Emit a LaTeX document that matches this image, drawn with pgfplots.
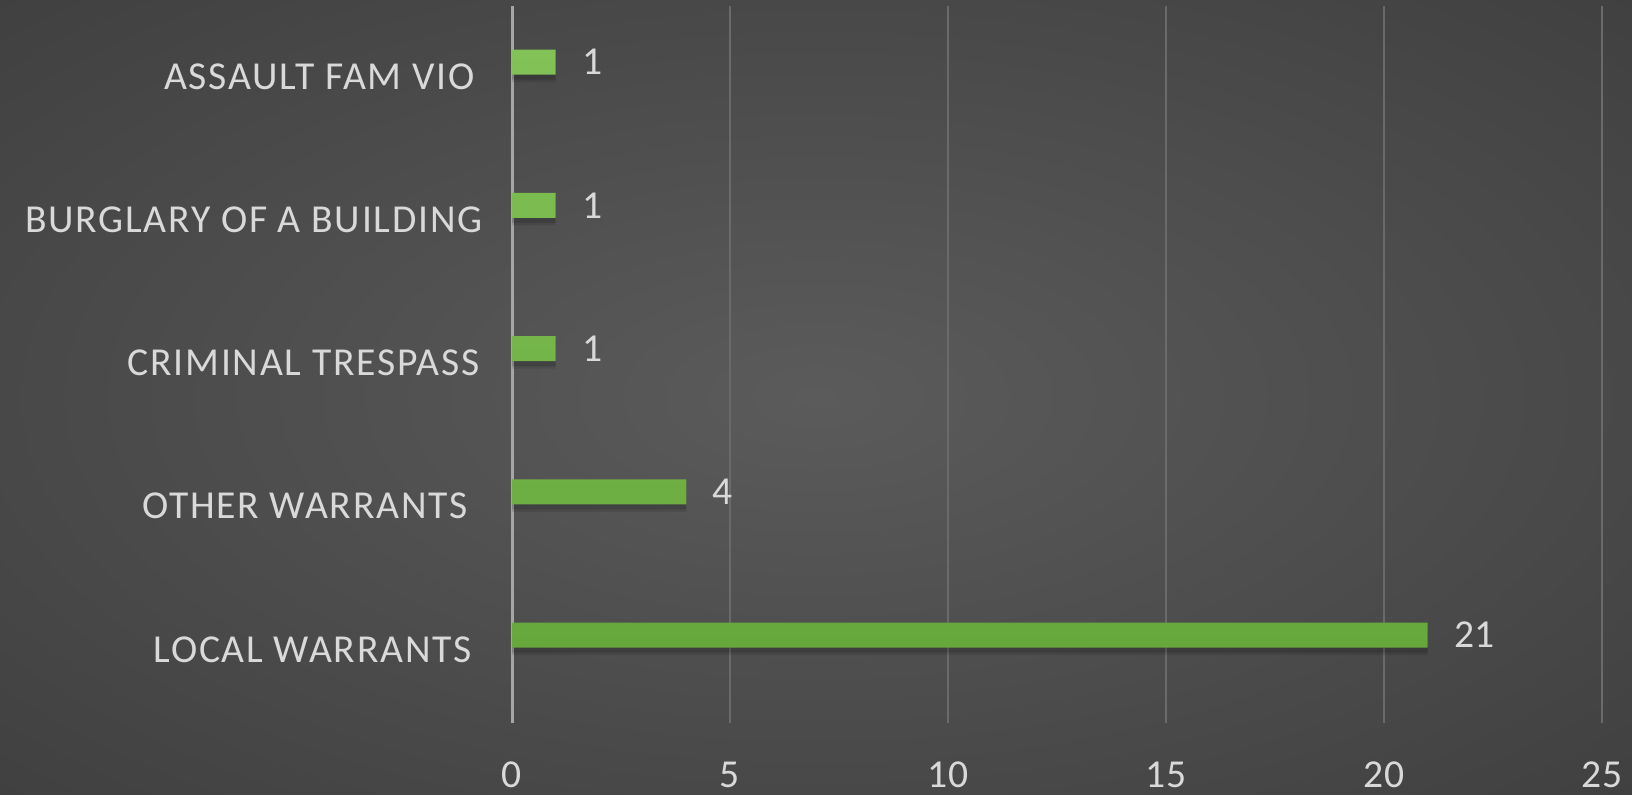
\documentclass[border=0pt]{standalone}
\usepackage{pgfplots}
\pgfplotsset{compat=1.18}
\usepackage{fontspec}
\setmainfont{Carlito}
\newfontfamily\catfont[LetterSpace=4.5]{Carlito}

\definecolor{bgmid}{HTML}{5B5B5B}
\definecolor{bgedge}{HTML}{353535}
\definecolor{bgcorner}{HTML}{262626}
\definecolor{txt}{HTML}{D9D9D9}
\definecolor{gridc}{HTML}{6A6A6A}
\definecolor{axisc}{HTML}{A6A6A6}
\definecolor{bartop}{HTML}{82C257}
\definecolor{barbot}{HTML}{67A83D}

\pgfdeclareradialshading{bgshade}{\pgfpoint{0bp}{0bp}}{%
  color(0bp)=(bgmid); color(50bp)=(bgedge); color(71bp)=(bgcorner); color(100bp)=(bgcorner)}

\newcommand{\lbl}{\fontsize{19.8}{24}\selectfont}

\begin{document}
\begin{tikzpicture}
% canvas: 1 px of the reference = 0.5pt
\path[use as bounding box, shading=bgshade] (0,0) rectangle (816pt,397pt);

\begin{axis}[
    at={(256pt,35.5pt)}, anchor=south west,
    scale only axis,
    width=545pt, height=358.5pt,
    xmin=0, xmax=25,
    ymin=-0.614, ymax=4.391,
    xtick={0,5,...,25},
    ytick={0,...,4},
    yticklabels={LOCAL WARRANTS\hspace*{5.5pt},
                 OTHER WARRANTS\hspace*{7.5pt},
                 CRIMINAL TRESPASS\hspace*{1.5pt},
                 BURGLARY OF A BUILDING,
                 ASSAULT FAM VIO\hspace*{4pt}},
    axis line style={draw=none},
    major tick length=0pt,
    xmajorgrids,
    grid style={gridc, line width=1.1pt},
    extra x ticks={0},
    extra x tick labels={},
    extra x tick style={grid style={axisc, line width=1.5pt}},
    /pgf/number format/assume math mode=true,
    xticklabel style={font=\lbl, text=txt, anchor=base, inner sep=0pt, yshift=-32pt},
    yticklabel style={font=\catfont\lbl, text=txt, anchor=base east, inner sep=0pt, yshift=-13.5pt, xshift=-14.5pt},
    clip=false,
  ]
  % soft shadow under the bars
  \addplot[xbar, bar width=14pt, bar shift=-3pt, draw=none, fill=black, fill opacity=0.10]
    coordinates {(21,0) (4,1) (1,2) (1,3) (1,4)};
  \addplot[xbar, bar width=12.5pt, bar shift=-2.5pt, draw=none, fill=black, fill opacity=0.12]
    coordinates {(21,0) (4,1) (1,2) (1,3) (1,4)};
  \addplot[xbar, bar width=12.5pt, bar shift=0pt, draw=none,
           top color=bartop, bottom color=barbot,
           nodes near coords,
           nodes near coords style={font=\lbl, text=txt, anchor=west, inner sep=0pt, xshift=13pt}]
    coordinates {(21,0) (4,1) (1,2) (1,3) (1,4)};
\end{axis}
\end{tikzpicture}
\end{document}
